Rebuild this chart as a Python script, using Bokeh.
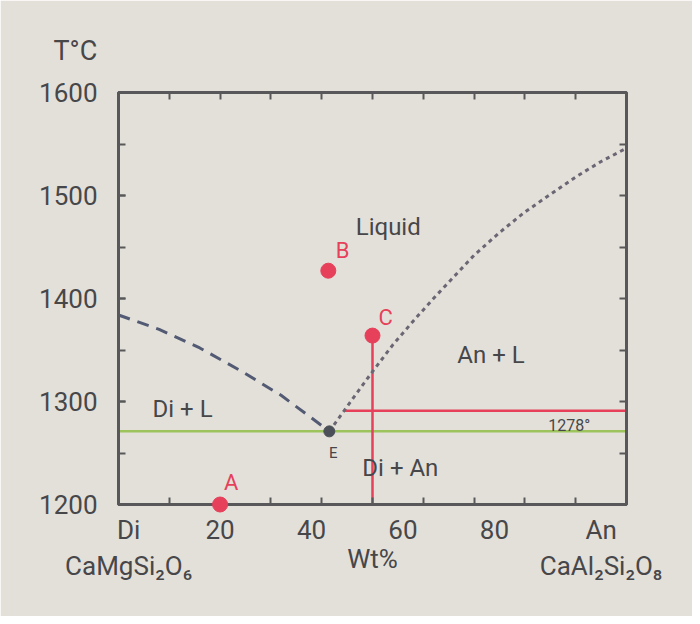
import numpy as np
from bokeh.plotting import figure
from bokeh.models import Range1d, LinearAxis, FixedTicker, Title
from bokeh.core.properties import value
from bokeh.embed import file_html
from bokeh.resources import INLINE

# ---------------- data ----------------
x_tick_values = [0, 20, 40, 60, 80, 100]
x_tick_labels = ["Di\nCaMgSi₂O₆", "20", "40", "60", "80", "An\nCaAl₂Si₂O₈"]
x_minor_ticks = [10, 20, 30, 40, 50, 60, 70, 80, 90]
y_tick_values = [1200, 1300, 1400, 1500, 1600]
y_minor_ticks = [1250, 1300, 1350, 1400, 1450, 1500, 1550]

# Di liquidus (wt% An, T)
di_liq_wt = [0, 8, 16, 24, 32, 38, 41.5]
di_liq_T = [1384, 1370, 1352, 1330, 1306, 1284, 1271]
# An liquidus
an_liq_wt = [41.5, 46, 50, 54, 58, 62, 66, 70, 75, 80, 85, 90, 95, 100]
an_liq_T = [1271, 1302, 1329, 1355, 1378, 1400, 1421, 1442, 1464, 1484, 1501, 1518, 1533, 1546]

eutectic_wt = 41.5
eutectic_T = 1271
isotherm_T = 1291          # red horizontal line
eutectic_label = "1278°"

point_names = ["A", "B", "C"]
point_wt = [20, 41.3, 50]
point_T = [1200, 1427, 1364]

# ---------------- style ----------------
FONT = "Roboto"
BG = "#e3e0d9"
INK = "#47474a"
RED = "#e6405a"
GREEN = "#9cc35c"
FRAME = "#58585a"

p = figure(width=692, height=616, output_backend="svg", toolbar_location=None,
           x_range=Range1d(0, 100), y_range=Range1d(1200, 1600),
           min_border_left=118, min_border_right=66, min_border_top=92,
           min_border_bottom=112, background_fill_color=BG, border_fill_color=BG,
           x_axis_location=None, y_axis_location=None)
p.grid.visible = False
p.outline_line_color = FRAME
p.outline_line_width = 3


def style_axis(ax):
    ax.axis_line_color = FRAME
    ax.axis_line_width = 3
    ax.major_tick_line_color = FRAME
    ax.minor_tick_line_color = FRAME
    ax.major_tick_line_width = 2
    ax.minor_tick_line_width = 2
    ax.major_tick_in = 7
    ax.major_tick_out = 0
    ax.minor_tick_in = 7
    ax.minor_tick_out = 0
    ax.major_label_text_font = FONT
    ax.major_label_text_color = INK
    ax.major_label_text_font_size = "26px"
    ax.axis_label_text_font = FONT
    ax.axis_label_text_color = INK
    ax.axis_label_text_font_style = "normal"


def ticks_only(ax):
    ax.major_label_text_color = None
    ax.major_label_text_font_size = "1px"
    ax.major_label_standoff = 0


# left axis: labels every 100, ticks every 50
left = LinearAxis(ticker=FixedTicker(ticks=y_tick_values, minor_ticks=y_minor_ticks))
style_axis(left)
left.major_label_standoff = 21
p.add_layout(left, "left")

# right axis: ticks only
right = LinearAxis(ticker=FixedTicker(ticks=y_minor_ticks, minor_ticks=[]))
style_axis(right)
ticks_only(right)
p.add_layout(right, "right")

# top axis: ticks only
top = LinearAxis(ticker=FixedTicker(ticks=x_minor_ticks, minor_ticks=[]))
style_axis(top)
ticks_only(top)
p.add_layout(top, "above")

p.add_layout(Title(text="T°C", align="left", offset=-65, standoff=52,
                   text_font=FONT, text_font_size="27px", text_color=INK,
                   text_font_style="normal"), "above")

# bottom axis: inward ticks every 10, hand-placed labels (as in the drawing)
label_shift = [2, 0, -2, -4, -6, -5]
label_pos = [v + s for v, s in zip(x_tick_values, label_shift)]
bottom = LinearAxis(ticker=FixedTicker(ticks=label_pos, minor_ticks=x_minor_ticks))
style_axis(bottom)
bottom.major_tick_line_color = None
bottom.major_label_standoff = 10
bottom.major_label_overrides = {pos: lab for pos, lab in zip(label_pos, x_tick_labels)}
bottom.axis_label = "Wt%"
bottom.axis_label_text_font_size = "26px"
bottom.axis_label_standoff = -40
p.add_layout(bottom, "below")

# ---------------- lines ----------------
p.line([0, 100], [eutectic_T, eutectic_T], line_color=GREEN, line_width=2.5)
x0_iso = float(np.interp(isotherm_T, an_liq_T, an_liq_wt))
p.line([x0_iso, 100], [isotherm_T, isotherm_T], line_color=RED, line_width=2.5)
p.line([point_wt[2], point_wt[2]], [point_T[2], 1200], line_color=RED, line_width=2.5)

p.line(di_liq_wt, di_liq_T, line_color="#525a74", line_width=3, line_dash="12 8")
p.line(an_liq_wt, an_liq_T, line_color="#6b6674", line_width=3, line_dash="4 4")

p.scatter([eutectic_wt], [eutectic_T], size=11, color="#4b5058")
pts = p.scatter(point_wt, point_T, size=15, color=RED)
pts.level = "overlay"

# ---------------- text ----------------
p.text(x=[point_wt[0] + 2.2, point_wt[1] + 2.8, point_wt[2] + 2.6],
       y=[point_T[0] + 21, point_T[1] + 20, point_T[2] + 18],
       text=point_names, text_font=value(FONT), text_font_size="22px",
       text_color=RED, text_align="center", text_baseline="middle")

p.text(x=[46.7, 6.7, 66.7, 48.0], y=[1469, 1293, 1345, 1235],
       text=["Liquid", "Di + L", "An + L", "Di + An"], text_font=value(FONT),
       text_font_size="24px", text_color=INK, text_align="left", text_baseline="middle")
p.text(x=[84.6], y=[1277], text=[eutectic_label], text_font=value(FONT),
       text_font_size="16px", text_color=INK, text_align="left", text_baseline="middle")
p.text(x=[eutectic_wt + 0.8], y=[eutectic_T - 21], text=["E"], text_font=value(FONT),
       text_font_size="15px", text_color=INK, text_align="center", text_baseline="middle")

open("out.html", "w").write(file_html(p, INLINE))
